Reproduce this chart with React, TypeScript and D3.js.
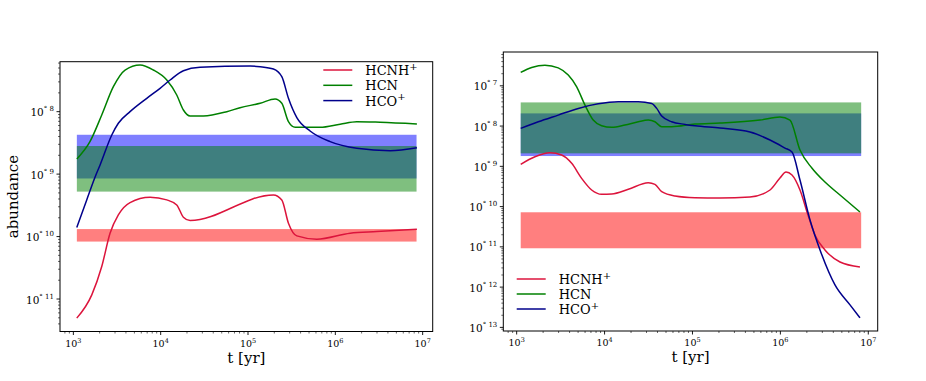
import React, { useEffect, useRef } from 'react';
import * as d3 from 'd3';

// all values are log10: time in yr, abundance relative
const species = ['HCNH+', 'HCN', 'HCO+'];
const lineColors = ['#dc143c', 'green', 'darkblue'];
const bandColors = ['red', 'blue', 'green'];

// left panel
const leftHcnhT = [3.039, 3.211, 3.325, 3.42, 3.515, 3.649, 3.879, 4.07, 4.184, 4.26, 4.337, 5.291, 5.387, 5.463, 5.559, 5.788, 6.17, 6.475, 6.934];
const leftHcnhA = [-11.306, -10.933, -10.48, -9.946, -9.653, -9.456, -9.37, -9.413, -9.493, -9.69, -9.744, -9.333, -9.413, -9.786, -9.989, -10.042, -9.946, -9.92, -9.882];
const leftHcnT = [3.04, 3.19, 3.325, 3.458, 3.592, 3.764, 3.916, 4.07, 4.184, 4.26, 4.337, 4.489, 4.757, 4.909, 5.139, 5.31, 5.387, 5.463, 5.54, 5.826, 6.055, 6.246, 6.513, 6.934];
const leftHcnA = [-8.757, -8.48, -8.053, -7.6, -7.333, -7.253, -7.333, -7.493, -7.733, -7.973, -8.069, -8.069, -8.0, -7.936, -7.866, -7.797, -7.866, -8.16, -8.25, -8.25, -8.2, -8.16, -8.17, -8.197];
const leftHcoT = [3.039, 3.153, 3.249, 3.306, 3.44, 3.515, 3.649, 3.841, 3.993, 4.108, 4.26, 4.451, 5.024, 5.139, 5.291, 5.387, 5.463, 5.559, 5.711, 5.94, 6.246, 6.628, 6.934];
const leftHcoA = [-9.856, -9.413, -9.045, -8.853, -8.373, -8.186, -8.0, -7.786, -7.626, -7.493, -7.344, -7.29, -7.269, -7.28, -7.317, -7.44, -7.786, -8.096, -8.309, -8.48, -8.586, -8.624, -8.576];
// bands: [top, bottom]
const leftBandT = [3.04, 6.93];
const leftBandRed = [-9.88, -10.08];
const leftBandBlue = [-8.37, -9.07];
const leftBandGreen = [-8.55, -9.28];

// right panel
const rightHcnhT = [3.046, 3.208, 3.379, 3.512, 3.626, 3.739, 3.853, 3.967, 4.081, 4.27, 4.497, 4.573, 4.65, 4.801, 5.028, 5.313, 5.654, 5.882, 5.995, 6.064, 6.132, 6.223, 6.314, 6.393, 6.507, 6.678, 6.905];
const rightHcnhA = [-8.95, -8.762, -8.663, -8.72, -8.926, -9.298, -9.588, -9.695, -9.687, -9.571, -9.407, -9.447, -9.63, -9.737, -9.779, -9.787, -9.762, -9.588, -9.29, -9.141, -9.216, -9.588, -10.208, -10.705, -11.077, -11.375, -11.499];
const rightHcnT = [3.046, 3.171, 3.322, 3.473, 3.587, 3.683, 3.777, 3.871, 3.967, 4.081, 4.232, 4.383, 4.497, 4.573, 4.65, 4.763, 5.028, 5.313, 5.768, 5.995, 6.109, 6.223, 6.358, 6.507, 6.678, 6.905];
const rightHcnA = [-6.667, -6.543, -6.486, -6.553, -6.734, -7.025, -7.479, -7.851, -7.993, -8.032, -7.975, -7.893, -7.851, -7.893, -8.017, -8.017, -7.95, -7.926, -7.851, -7.777, -7.851, -8.596, -9.042, -9.39, -9.712, -10.134];
const rightHcoT = [3.046, 3.246, 3.473, 3.701, 3.928, 4.156, 4.383, 4.536, 4.593, 4.65, 4.763, 4.915, 5.028, 5.313, 5.654, 5.882, 6.052, 6.132, 6.223, 6.337, 6.451, 6.621, 6.792, 6.905];
const rightHcoA = [-8.057, -7.893, -7.727, -7.561, -7.447, -7.397, -7.397, -7.437, -7.561, -7.752, -7.893, -7.958, -7.993, -8.05, -8.149, -8.347, -8.546, -8.645, -9.34, -10.333, -11.077, -11.945, -12.441, -12.764];
const rightBandT = [3.046, 6.919];
const rightBandRed = [-10.141, -11.035];
const rightBandBlue = [-7.685, -8.744];
const rightBandGreen = [-7.412, -8.677];

// tick labels (decades)
const xDecades = [3, 4, 5, 6, 7];
const leftYDecades = [-8, -9, -10, -11];
const rightYDecades = [-7, -8, -9, -10, -11, -12, -13];

const FONT = 'DejaVu Serif';

function drawPanel(svg: any, p: any) {
  const x = d3.scaleLog().domain([10 ** p.xMin, 10 ** p.xMax]).range([p.left, p.right]);
  const y = d3.scaleLog().domain([10 ** p.yMin, 10 ** p.yMax]).range([p.bottom, p.top]);

  // bands
  const bands = [
    { a: p.bandRed, c: bandColors[0] },
    { a: p.bandBlue, c: bandColors[1] },
    { a: p.bandGreen, c: bandColors[2] },
  ];
  bands.forEach(b => {
    svg.append('rect')
      .attr('x', x(10 ** p.bandT[0]))
      .attr('width', x(10 ** p.bandT[1]) - x(10 ** p.bandT[0]))
      .attr('y', y(10 ** b.a[0]))
      .attr('height', y(10 ** b.a[1]) - y(10 ** b.a[0]))
      .attr('fill', b.c)
      .attr('fill-opacity', 0.5);
  });

  // lines
  const line = d3.line<[number, number]>()
    .x(d => x(10 ** d[0]))
    .y(d => y(10 ** d[1]))
    .curve(d3.curveMonotoneX);
  p.series.forEach((s: any, i: number) => {
    const pts = s.t.map((t: number, j: number) => [t, s.a[j]] as [number, number]);
    svg.append('path')
      .attr('d', line(pts))
      .attr('fill', 'none')
      .attr('stroke', lineColors[i])
      .attr('stroke-width', 1.5);
  });

  // frame
  svg.append('rect')
    .attr('x', p.left).attr('y', p.top)
    .attr('width', p.right - p.left).attr('height', p.bottom - p.top)
    .attr('fill', 'none').attr('stroke', '#000').attr('stroke-width', 1);

  // x ticks
  for (let k = 2; k <= 7; k++) {
    for (let m = 1; m <= 9; m++) {
      const v = m * 10 ** k;
      if (Math.log10(v) < p.xMin || Math.log10(v) > p.xMax) continue;
      const len = m === 1 ? 3.5 : 2;
      svg.append('line')
        .attr('x1', x(v)).attr('x2', x(v))
        .attr('y1', p.bottom).attr('y2', p.bottom + len)
        .attr('stroke', '#000').attr('stroke-width', m === 1 ? 0.9 : 0.6);
    }
  }
  xDecades.forEach(k => {
    const t = svg.append('text')
      .attr('x', x(10 ** k)).attr('y', p.bottom + 15)
      .attr('text-anchor', 'middle')
      .attr('font-family', FONT).attr('font-size', 9.5);
    t.append('tspan').text('10');
    t.append('tspan').attr('dy', -4).attr('font-size', 6.5).text(String(k));
  });

  // y ticks
  for (let k = -14; k <= -6; k++) {
    for (let m = 1; m <= 9; m++) {
      const v = m * 10 ** k;
      const lv = Math.log10(v);
      if (lv < p.yMin || lv > p.yMax) continue;
      const len = m === 1 ? 3.5 : 2;
      svg.append('line')
        .attr('x1', p.left - len).attr('x2', p.left)
        .attr('y1', y(v)).attr('y2', y(v))
        .attr('stroke', '#000').attr('stroke-width', m === 1 ? 0.9 : 0.6);
    }
  }
  p.yDecades.forEach((k: number) => {
    const t = svg.append('text')
      .attr('x', p.left - 6).attr('y', y(10 ** k) + 4.5)
      .attr('text-anchor', 'end')
      .attr('font-family', FONT).attr('font-size', 10.5);
    t.append('tspan').text('10');
    t.append('tspan').attr('dy', -5).attr('font-size', 7).text('\u00b0 ' + String(-k));
  });

  // axis labels
  svg.append('text')
    .attr('x', (p.left + p.right) / 2).attr('y', p.bottom + 31)
    .attr('text-anchor', 'middle')
    .attr('font-family', FONT).attr('font-size', 15)
    .text('t [yr]');
  if (p.yLabel) {
    svg.append('text')
      .attr('transform', `translate(${p.left - 42},${(p.top + p.bottom) / 2}) rotate(-90)`)
      .attr('text-anchor', 'middle')
      .attr('font-family', FONT).attr('font-size', 15)
      .text('abundance');
  }

  // legend
  species.forEach((name, i) => {
    const ly = p.legend.y + i * p.legend.dy;
    svg.append('line')
      .attr('x1', p.legend.x).attr('x2', p.legend.x + 29)
      .attr('y1', ly).attr('y2', ly)
      .attr('stroke', lineColors[i]).attr('stroke-width', 1.5);
    const t = svg.append('text')
      .attr('x', p.legend.x + 42).attr('y', ly + 5)
      .attr('font-family', FONT).attr('font-size', 13);
    const base = name.replace('+', '');
    t.append('tspan').text(base);
    if (name.endsWith('+')) {
      t.append('tspan').attr('dy', -5.5).attr('font-size', 10).text('+');
    }
  });
}

export default function App() {
  const ref = useRef<SVGSVGElement>(null);

  useEffect(() => {
    const svg = d3.select(ref.current);
    svg.selectAll('*').remove();

    drawPanel(svg, {
      left: 60, right: 432.7, top: 61.7, bottom: 331.5,
      xMin: 2.847, xMax: 7.115, yMin: -11.52, yMax: -7.2,
      bandT: leftBandT, bandRed: leftBandRed, bandBlue: leftBandBlue, bandGreen: leftBandGreen,
      series: [
        { t: leftHcnhT, a: leftHcnhA },
        { t: leftHcnT, a: leftHcnA },
        { t: leftHcoT, a: leftHcoA },
      ],
      yDecades: leftYDecades,
      yLabel: true,
      legend: { x: 323.3, y: 70, dy: 15.3 },
    });

    drawPanel(svg, {
      left: 503.3, right: 877.7, top: 52, bottom: 331,
      xMin: 2.848, xMax: 7.107, yMin: -13.09, yMax: -6.16,
      bandT: rightBandT, bandRed: rightBandRed, bandBlue: rightBandBlue, bandGreen: rightBandGreen,
      series: [
        { t: rightHcnhT, a: rightHcnhA },
        { t: rightHcnT, a: rightHcnA },
        { t: rightHcoT, a: rightHcoA },
      ],
      yDecades: rightYDecades,
      yLabel: false,
      legend: { x: 516.7, y: 279, dy: 15 },
    });
  }, []);

  return (
    <svg ref={ref} width={926} height={381}
      style={{ position: 'absolute', left: 0, top: 0, background: '#fff' }} />
  );
}
